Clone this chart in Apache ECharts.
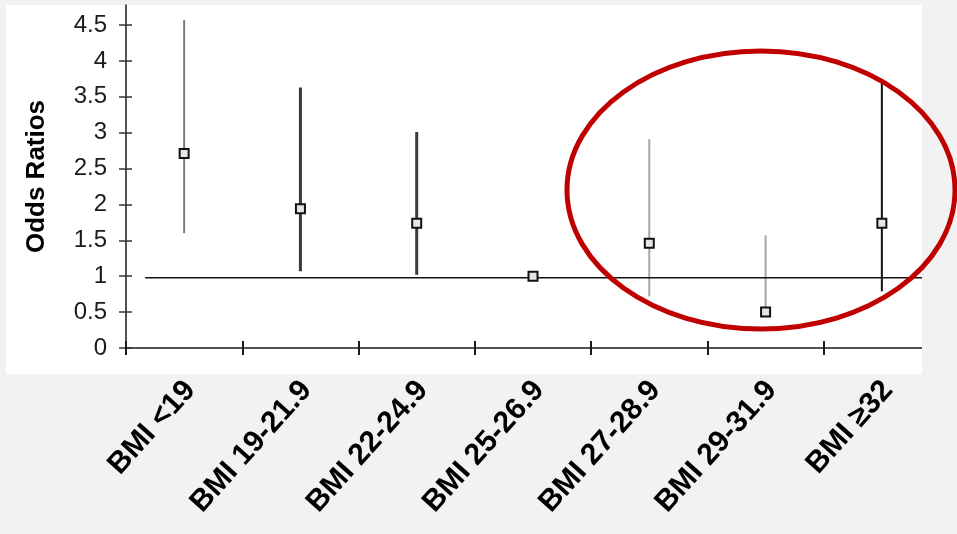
<!DOCTYPE html>
<html>
<head>
<meta charset="utf-8">
<script src="https://cdn.jsdelivr.net/npm/echarts@6/dist/echarts.min.js"></script>
<style>
  html, body { margin: 0; padding: 0; background: #f2f2f2; }
  #chart { width: 957px; height: 534px; }
</style>
</head>
<body>
<div id="chart"></div>
<script>
// BMI groups and their odds ratios with 95% confidence limits
const categories = ['BMI <19', 'BMI 19-21.9', 'BMI 22-24.9', 'BMI 25-26.9', 'BMI 27-28.9', 'BMI 29-31.9', 'BMI \u226532'];
const oddsRatios = [2.71, 1.94, 1.74, 1.00, 1.46, 0.50, 1.74];
const ciLower    = [1.60, 1.07, 1.02, 1.00, 0.72, 0.50, 0.79];
const ciUpper    = [4.57, 3.63, 3.01, 1.00, 2.91, 1.57, 3.73];
const yTicks = [0, 0.5, 1, 1.5, 2, 2.5, 3, 3.5, 4, 4.5];
const referenceValue = 1;

// stroke used for each whisker
const whiskerStyle = [
  { color: '#7a7a7a', width: 2 },
  { color: '#3a3a3a', width: 3 },
  { color: '#3a3a3a', width: 3 },
  { color: '#000000', width: 0 },
  { color: '#a6a6a6', width: 2 },
  { color: '#a6a6a6', width: 2 },
  { color: '#111111', width: 2 }
];

const FONT = '"Liberation Sans", Arial, sans-serif';
const AXIS_COLOR = '#1a1a1a';
const Y_MAX = 4.78;

const chart = echarts.init(document.getElementById('chart'));

const option = {
  backgroundColor: '#f2f2f2',
  animation: false,
  grid: { left: 126, right: 17, top: 5, bottom: 186, containLabel: false, outerBoundsMode: 'none' },
  xAxis: [
    {
      type: 'category',
      data: categories,
      position: 'bottom',
      boundaryGap: true,
      axisLine: { show: true, lineStyle: { color: AXIS_COLOR, width: 1.5 } },
      axisTick: { show: true, length: 7, lineStyle: { color: AXIS_COLOR, width: 2 } },
      axisLabel: {
        interval: 0, rotate: 48, margin: 44,
        padding: [0, -9, 0, 0],
        fontFamily: FONT, fontWeight: 'bold', fontSize: 30, color: '#000'
      },
      splitLine: { show: false }
    },
    {
      type: 'category',
      data: categories,
      position: 'bottom',
      boundaryGap: true,
      axisLine: { show: false },
      axisTick: { show: true, inside: true, length: 7, lineStyle: { color: AXIS_COLOR, width: 2 } },
      axisLabel: { show: false },
      splitLine: { show: false }
    }
  ],
  yAxis: [
    {
      type: 'value',
      min: 0, max: Y_MAX,
      position: 'left',
      axisLine: { show: true, lineStyle: { color: AXIS_COLOR, width: 1.5 } },
      axisTick: { show: true, length: 7, customValues: yTicks, lineStyle: { color: '#333', width: 1.5 } },
      axisLabel: { customValues: yTicks, margin: 19, fontFamily: FONT, fontSize: 24, color: '#1a1a1a' },
      splitLine: { show: false },
      name: 'Odds Ratios',
      nameLocation: 'middle',
      nameGap: 76,
      nameTextStyle: { fontFamily: FONT, fontWeight: 'bold', fontSize: 26, color: '#000' }
    },
    {
      type: 'value',
      min: 0, max: Y_MAX,
      position: 'left',
      axisLine: { show: false },
      axisTick: { show: true, inside: true, length: 6, customValues: yTicks, lineStyle: { color: '#333', width: 1.5 } },
      axisLabel: { show: false },
      splitLine: { show: false }
    }
  ],
  series: [
    {
      // confidence-interval whiskers
      type: 'custom',
      xAxisIndex: 0, yAxisIndex: 0,
      z: 2,
      data: categories.map((c, i) => [i, ciLower[i], ciUpper[i]]),
      encode: { x: 0, y: [1, 2] },
      renderItem: function (params, api) {
        const i = api.value(0);
        const lo = api.coord([i, api.value(1)]);
        const hi = api.coord([i, api.value(2)]);
        const s = whiskerStyle[params.dataIndex];
        if (!s.width) return null;
        return {
          type: 'line',
          shape: { x1: lo[0], y1: lo[1], x2: hi[0], y2: hi[1] },
          style: { stroke: s.color, lineWidth: s.width }
        };
      }
    },
    {
      // reference line at odds ratio = 1
      type: 'custom',
      xAxisIndex: 0, yAxisIndex: 0,
      z: 3,
      data: [[0, referenceValue]],
      encode: { y: 1 },
      renderItem: function (params, api) {
        const band = api.size([1, 0])[0];
        const start = api.coord([0, api.value(1)]);
        const end = api.coord([categories.length - 1, api.value(1)]);
        return {
          type: 'line',
          shape: { x1: start[0] - band * 0.335, y1: start[1] + 1.5, x2: end[0] + band * 0.5, y2: end[1] + 1.5 },
          style: { stroke: '#111', lineWidth: 1.5 }
        };
      }
    },
    {
      // point estimates
      type: 'scatter',
      xAxisIndex: 0, yAxisIndex: 0,
      z: 4,
      symbol: 'rect',
      symbolSize: 9,
      itemStyle: { color: '#e6e6e6', borderColor: '#111', borderWidth: 2, opacity: 1 },
      data: categories.map((c, i) => [i, oddsRatios[i]])
    }
  ],
  graphic: [
    { type: 'rect', z: -10, silent: true, shape: { x: 6, y: 5, width: 916, height: 369 }, style: { fill: '#ffffff' } },
    { type: 'rect', z: 100, silent: true, shape: { x: 922, y: 0, width: 35, height: 374 }, style: { fill: '#f2f2f2' } },
    { type: 'ellipse', z: 101, silent: true, shape: { cx: 761, cy: 190, rx: 194, ry: 139 }, style: { fill: null, stroke: '#c00000', lineWidth: 5 } }
  ]
};

chart.setOption(option);
</script>
</body>
</html>
